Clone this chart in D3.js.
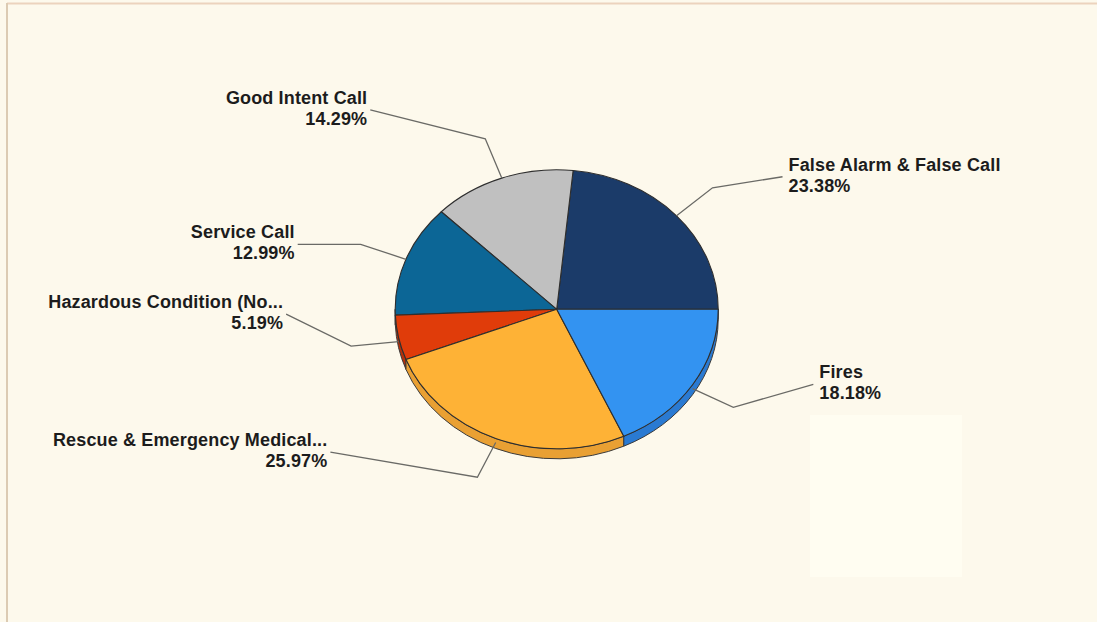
<!DOCTYPE html>
<html lang="en">
<head>
<meta charset="UTF-8">
<title>Incident Types</title>
<script src="https://cdn.jsdelivr.net/npm/d3@7/dist/d3.min.js"></script>
<style>
  body { margin: 0; background: #fdf9ec; }
  svg { display: block; }
  text { font-family: "Liberation Sans", Arial, sans-serif; font-weight: bold; fill: #1c1c1c; }
</style>
</head>
<body>
<div id="chart"></div>
<script>
// slice data, counter-clockwise from 3 o'clock
const categories = ["False Alarm & False Call", "Good Intent Call", "Service Call",
                    "Hazardous Condition (No...", "Rescue & Emergency Medical...", "Fires"];
const shares = [23.38, 14.29, 12.99, 5.19, 25.97, 18.18];
const topColors  = ["#1b3b69", "#c0c0c0", "#0c6696", "#e03c0a", "#feb236", "#3393f1"];
const sideColors = ["#142d52", "#9a9a9a", "#0a5078", "#b5300a", "#e9a033", "#2a7ad2"];

// where each label sits relative to its leader elbow (layout only)
const labelOffset = [[70, -11], [-115, -29], [-63, 0], [-65, -32], [-147, -25], [80, -23]];

const W = 1097, H = 622;
const cx = 556.7, cy = 309.3, rx = 161.5, ry = 139.5, depth = 10;

const svg = d3.select("#chart").append("svg")
  .attr("width", W).attr("height", H);

// frame
svg.append("rect").attr("x", 0).attr("y", 0).attr("width", W).attr("height", H).attr("fill", "#fdf9ec");
svg.append("rect").attr("x", 810).attr("y", 415).attr("width", 152).attr("height", 162).attr("fill", "#fffdf1");
svg.append("line").attr("x1", 7).attr("x2", W).attr("y1", 3.5).attr("y2", 3.5)
  .attr("stroke", "#ecd3bd").attr("stroke-width", 2);
svg.append("line").attr("x1", 7).attr("x2", 7).attr("y1", 3).attr("y2", H)
  .attr("stroke", "#dccbb3").attr("stroke-width", 2);

const pie = d3.pie().sort(null).value(d => d).startAngle(0).endAngle(2 * Math.PI);
const arcs = pie(shares);

// angle in radians, counter-clockwise from east, k = radius factor
const pt = (a, k = 1, dy = 0) => [cx + rx * k * Math.cos(a), cy - ry * k * Math.sin(a) + dy];

// side walls (only the front half is visible)
arcs.forEach((d, i) => {
  const a0 = Math.max(d.startAngle, Math.PI), a1 = Math.min(d.endAngle, 2 * Math.PI);
  if (a1 <= a0) return;
  const p0 = pt(a0), p1 = pt(a1), q1 = pt(a1, 1, depth), q0 = pt(a0, 1, depth);
  const path = `M${p0} A${rx},${ry} 0 0 0 ${p1} L${q1} A${rx},${ry} 0 0 1 ${q0} Z`;
  svg.append("path").attr("d", path)
    .attr("fill", sideColors[i]).attr("stroke", "#3a3a3a").attr("stroke-width", 1);
});

// top faces
svg.selectAll("path.slice")
  .data(arcs)
  .join("path")
  .attr("class", "slice")
  .attr("d", d => {
    const p0 = pt(d.startAngle), p1 = pt(d.endAngle);
    const large = d.endAngle - d.startAngle > Math.PI ? 1 : 0;
    return `M${cx},${cy} L${p0} A${rx},${ry} 0 ${large} 0 ${p1} Z`;
  })
  .attr("fill", (d, i) => topColors[i])
  .attr("stroke", "#2e2e2e")
  .attr("stroke-width", 1.1)
  .attr("stroke-linejoin", "round");

// clip so the far-left label is cut like the original
svg.append("clipPath").attr("id", "lblclip")
  .append("rect").attr("x", 46).attr("y", 0).attr("width", W).attr("height", H);

const labels = svg.append("g").attr("clip-path", "url(#lblclip)");

arcs.forEach((d, i) => {
  const mid = (d.startAngle + d.endAngle) / 2;
  // lower-half slices start the leader on the side wall
  const start = pt(mid, 1, Math.sin(mid) < 0 ? depth * 0.4 : 0);
  const elbow = pt(mid, 1.3);
  const end = [elbow[0] + labelOffset[i][0], elbow[1] + labelOffset[i][1]];
  const right = end[0] > cx;

  labels.append("polyline")
    .attr("points", [start, elbow, end].map(p => p.join(",")).join(" "))
    .attr("fill", "none").attr("stroke", "#6a6a66").attr("stroke-width", 1.3);

  const tx = right ? end[0] + 6 : end[0] - 3;
  const t = labels.append("text")
    .attr("x", tx).attr("y", end[1] - 6)
    .attr("text-anchor", right ? "start" : "end")
    .attr("font-size", 18)
    .attr("letter-spacing", 0.15);
  t.append("tspan").attr("x", tx).text(categories[i]);
  t.append("tspan").attr("x", tx).attr("dy", 21).text(shares[i].toFixed(2) + "%");
});
</script>
</body>
</html>
